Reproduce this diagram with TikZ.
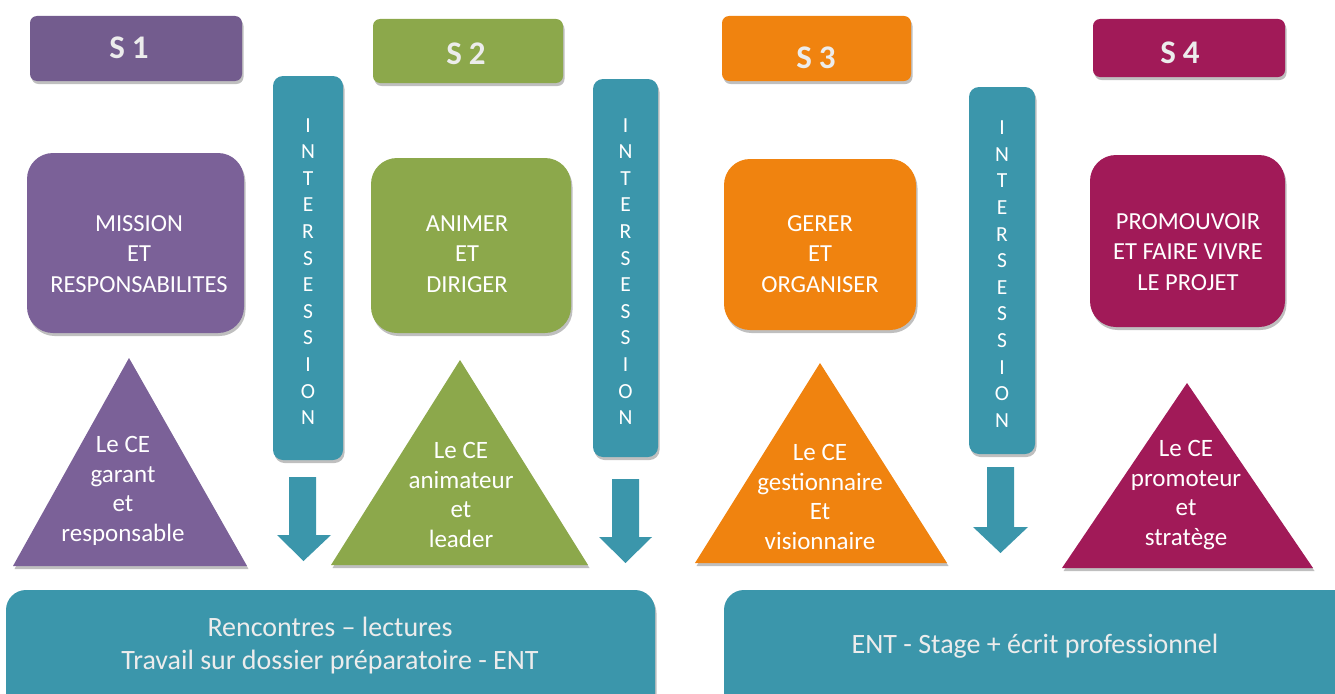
\documentclass[tikz,border=0pt]{standalone}
\usepackage{fontspec}
\setmainfont{Carlito}
\usetikzlibrary{shadows}
\definecolor{cpurple}{HTML}{7B6198}
\definecolor{cpurpleh}{HTML}{735C8E}
\definecolor{cgreen}{HTML}{8CA84B}
\definecolor{corange}{HTML}{F0830F}
\definecolor{cmagenta}{HTML}{A11A58}
\definecolor{cteal}{HTML}{3B96AB}
\definecolor{ctext}{HTML}{ECECEC}
\begin{document}
\begin{tikzpicture}[x=1pt,y=-1pt,
  shd/.style={drop shadow={shadow xshift=1.5pt,shadow yshift=-3pt,opacity=.25,fill=black}},
  hdr/.style={shd,rounded corners=7pt,inner sep=0pt},
  hdrtxt/.style={text=ctext,font=\fontsize{33}{36}\selectfont\bfseries},
  mbox/.style={shd,rounded corners=26pt,inner sep=0pt},
  mtxt/.style={text=white,align=center,font=\fontsize{24.5}{30.5}\selectfont},
  bar/.style={shd,fill=cteal,rounded corners=10pt,inner sep=0pt},
  bartxt/.style={text=white,align=center,font=\fontsize{21.5}{26.6}\selectfont},
  tri/.style={shd},
  tritxt/.style={text=white,align=center,font=\fontsize{25}{29.5}\selectfont},
  botbar/.style={shd,fill=cteal,rounded corners=20pt},
  bottxt/.style={text=ctext,align=center,font=\fontsize{28}{33}\selectfont},
  arr/.style={fill=cteal}
]
\useasboundingbox (0,0) rectangle (1335,693);
% headers
\node[hdr,fill=cpurpleh,minimum width=212pt,minimum height=65pt] (s1h) at (136,48.5) {};
\node[hdrtxt] (s1t) at (129,48) {S\hspace{7pt}1};
\node[hdr,fill=cgreen,minimum width=190pt,minimum height=64pt] (s2h) at (468,51) {};
\node[hdrtxt] (s2t) at (466,54) {S\hspace{7pt}2};
\node[hdr,fill=corange,minimum width=189pt,minimum height=65pt] (s3h) at (816.5,48.5) {};
\node[hdrtxt] (s3t) at (816,58) {S\hspace{7pt}3};
\node[hdr,fill=cmagenta,minimum width=192pt,minimum height=58pt] (s4h) at (1189,48) {};
\node[hdrtxt] (s4t) at (1180,53) {S\hspace{7pt}4};
% intersession bars
\node[bar,minimum width=70pt,minimum height=384pt] (b1) at (308,268) {};
\node[bartxt] (b1t) at (308,271.5) {I\\N\\T\\E\\R\\S\\E\\S\\S\\I\\O\\N};
\node[bar,minimum width=65pt,minimum height=378pt] (b2) at (625.5,268) {};
\node[bartxt] (b2t) at (625.5,271.5) {I\\N\\T\\E\\R\\S\\E\\S\\S\\I\\O\\N};
\node[bar,minimum width=66pt,minimum height=367pt] (b3) at (1002,270.5) {};
\node[bartxt] (b3t) at (1002,274) {I\\N\\T\\E\\R\\S\\E\\S\\S\\I\\O\\N};
% main boxes
\node[mbox,fill=cpurple,minimum width=217pt,minimum height=180pt] (m1) at (135.5,243) {};
\node[mtxt] (m1t) at (139,254) {MISSION\\ET\\RESPONSABILITES};
\node[mbox,fill=cgreen,minimum width=200pt,minimum height=175pt] (m2) at (471,245.5) {};
\node[mtxt] (m2t) at (467,254) {ANIMER\\ET\\DIRIGER};
\node[mbox,fill=corange,minimum width=192pt,minimum height=171pt] (m3) at (820,244.5) {};
\node[mtxt] (m3t) at (820,254) {GERER\\ET\\ORGANISER};
\node[mbox,fill=cmagenta,minimum width=195pt,minimum height=172pt] (m4) at (1187.5,241) {};
\node[mtxt] (m4t) at (1188,252) {PROMOUVOIR\\ET FAIRE VIVRE\\LE PROJET};
% triangles
\fill[tri,cpurple] (13,566) -- (129,358) -- (247,566) -- cycle;
\node[tritxt] (t1) at (123,491) {Le CE\\garant\\et\\responsable};
\fill[tri,cgreen] (331,565) -- (460,360) -- (588,565) -- cycle;
\node[tritxt] (t2) at (461,495) {Le CE\\animateur\\et\\leader};
\fill[tri,corange] (695,563) -- (820,363) -- (947,563) -- cycle;
\node[tritxt] (t3) at (820,497) {Le CE\\gestionnaire\\Et\\visionnaire};
\fill[tri,cmagenta] (1062,568) -- (1187,383) -- (1313,568) -- cycle;
\node[tritxt] (t4) at (1186,495) {Le CE\\promoteur\\et\\stratège};
% arrows
\fill[arr] (289,477) -- (316,477) -- (316,535) -- (331,535) -- (303.5,561) -- (277,535) -- (289,535) -- cycle;
\fill[arr] (612,479) -- (639,479) -- (639,537) -- (652,537) -- (625.5,563) -- (599,537) -- (612,537) -- cycle;
\fill[arr] (987,467) -- (1014,467) -- (1014,527) -- (1028,527) -- (1000.5,553) -- (973,527) -- (987,527) -- cycle;
% bottom bars
\fill[botbar] (6,590) rectangle (655,720);
\node[bottxt] (bl) at (330,646) {Rencontres – lectures\\Travail sur dossier préparatoire - ENT};
\fill[botbar] (724,590) rectangle (1360,720);
\node[bottxt] (br) at (1035,646) {ENT - Stage + écrit professionnel};
\end{tikzpicture}
\end{document}
